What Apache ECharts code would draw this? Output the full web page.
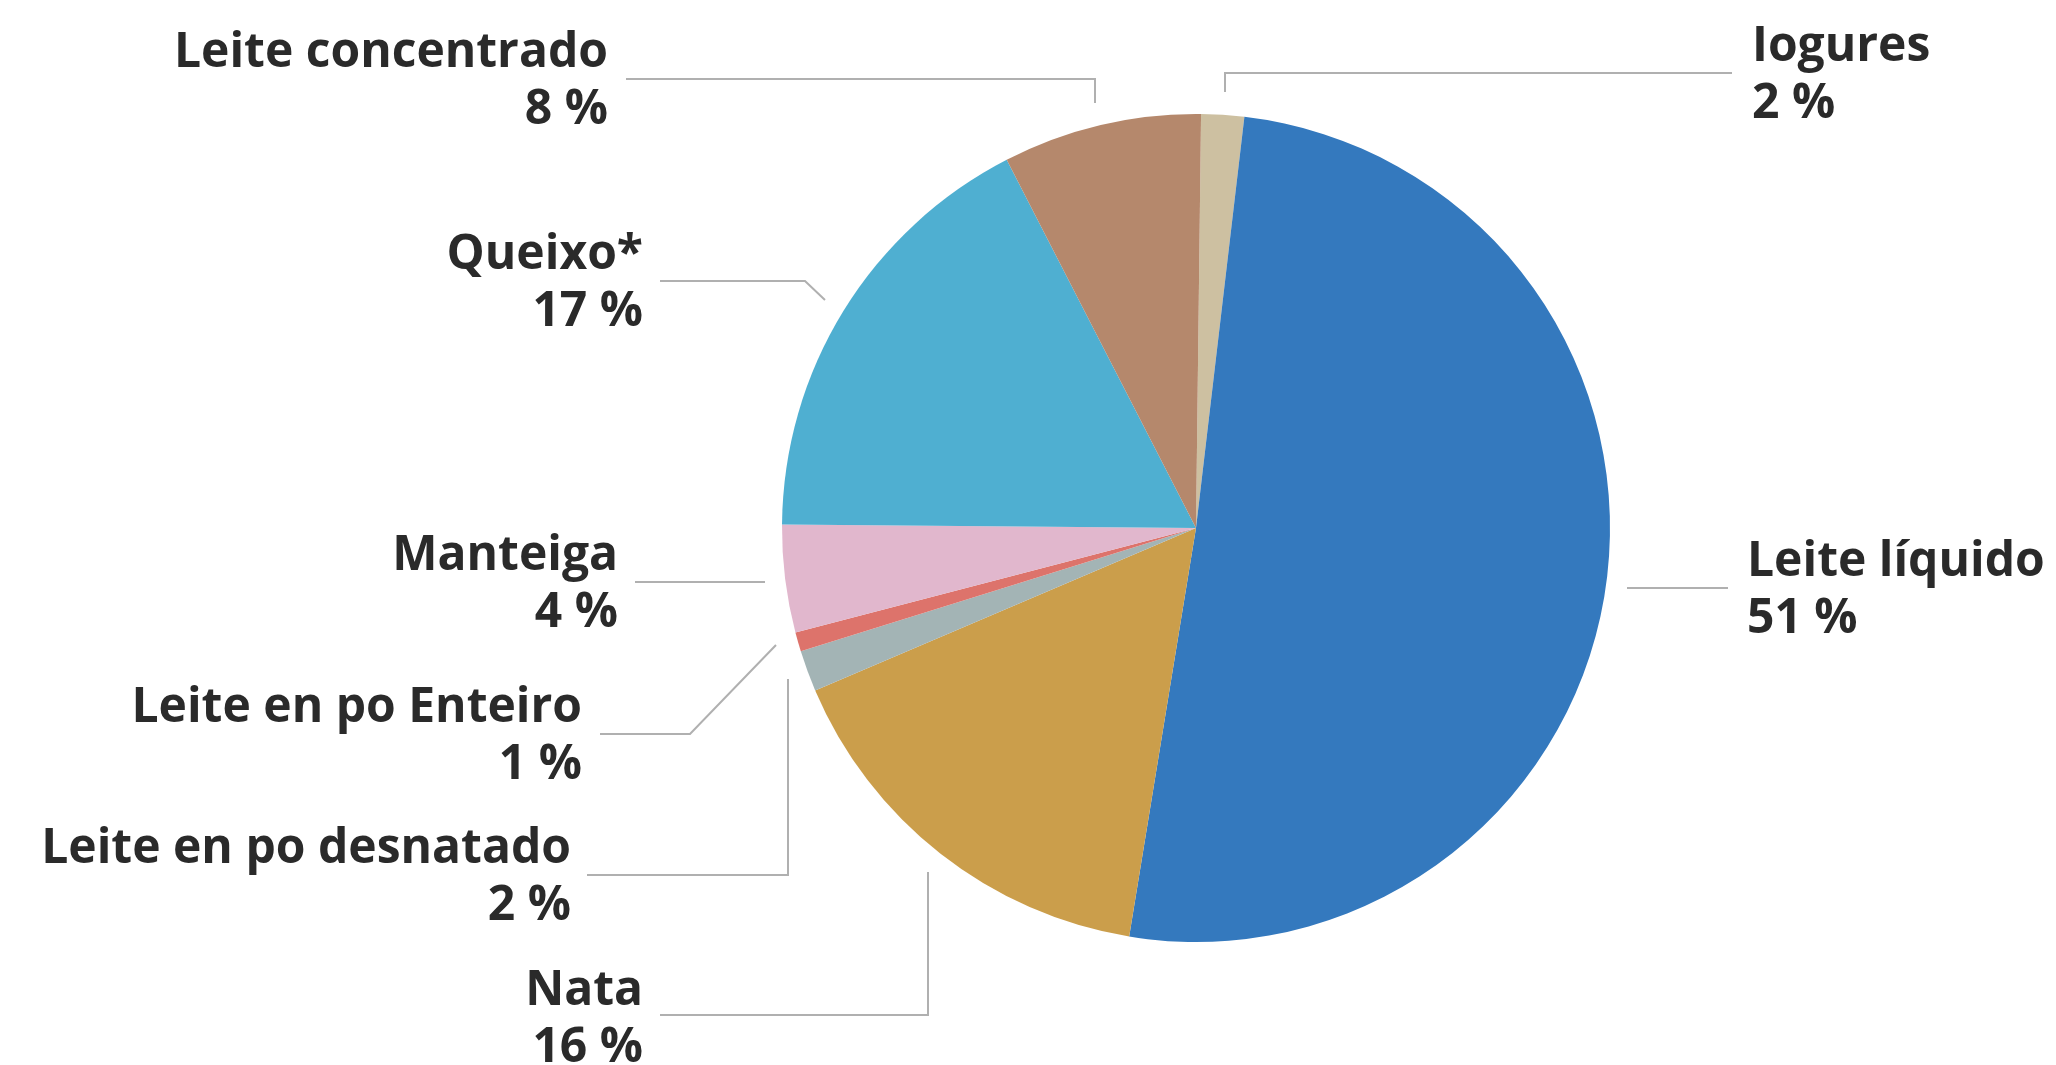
<!DOCTYPE html>
<html>
<head>
<meta charset="utf-8">
<script src="https://cdn.jsdelivr.net/npm/echarts@6/dist/echarts.min.js"></script>
<style>
html,body{margin:0;padding:0;background:#fff;}
#chart{width:2056px;height:1065px;}
</style>
</head>
<body>
<div id="chart"></div>
<script>
// ---- data (clockwise from the top) ----
const categories = ['Iogures', 'Leite líquido', 'Nata', 'Leite en po desnatado', 'Leite en po Enteiro', 'Manteiga', 'Queixo*', 'Leite concentrado'];
const shares = [1.67, 50.7, 16.0, 1.6, 0.75, 4.2, 17.3, 7.75];
const shareLabels = ['2 %', '51 %', '16 %', '2 %', '1 %', '4 %', '17 %', '8 %'];

// ---- styles / layout ----
const colors = ['#cdc0a1', '#3479be', '#cb9e4b', '#a3b4b5', '#dd736b', '#e1b7cd', '#4fafd1', '#b5886c'];
const labelPlacement = [
  { x: 1752, y: 76,  align: 'left',  line: [[1225, 92], [1225, 73], [1732, 73]] },
  { x: 1747, y: 591, align: 'left',  line: [[1627, 588], [1680, 588], [1728, 588]] },
  { x: 643,  y: 1020, align: 'right', line: [[928, 872], [928, 1015], [660, 1015]] },
  { x: 571,  y: 878, align: 'right', line: [[788, 679], [788, 875], [587, 875]] },
  { x: 582,  y: 737, align: 'right', line: [[776, 645], [690, 734], [600, 734]] },
  { x: 618,  y: 585, align: 'right', line: [[765, 582], [700, 582], [635, 582]] },
  { x: 643,  y: 284, align: 'right', line: [[825, 300], [805, 281], [660, 281]] },
  { x: 608,  y: 82,  align: 'right', line: [[1095, 103], [1095, 79], [626, 79]] }
];

const chart = echarts.init(document.getElementById('chart'), null, { renderer: 'canvas' });
chart.setOption({
  animation: false,
  backgroundColor: '#ffffff',
  series: [{
    type: 'pie',
    center: [1196, 528],
    radius: 414,
    startAngle: 89.3,
    clockwise: true,
    avoidLabelOverlap: false,
    data: categories.map((c, i) => ({ name: c, value: shares[i], itemStyle: { color: colors[i] } })),
    itemStyle: { borderWidth: 0 },
    label: {
      show: true,
      position: 'outside',
      formatter: p => p.name + '\n' + shareLabels[p.dataIndex],
      fontFamily: 'Open Sans',
      fontWeight: 'bold',
      fontSize: 48,
      lineHeight: 57,
      color: '#2a2a2a'
    },
    labelLine: {
      show: true,
      smooth: false,
      lineStyle: { color: '#b0b0b0', width: 2 }
    },
    labelLayout: function (params) {
      const pl = labelPlacement[params.dataIndex];
      return {
        x: pl.x,
        y: pl.y,
        align: pl.align,
        verticalAlign: 'middle',
        labelLinePoints: pl.line
      };
    },
    emphasis: { disabled: true }
  }]
});
</script>
</body>
</html>
